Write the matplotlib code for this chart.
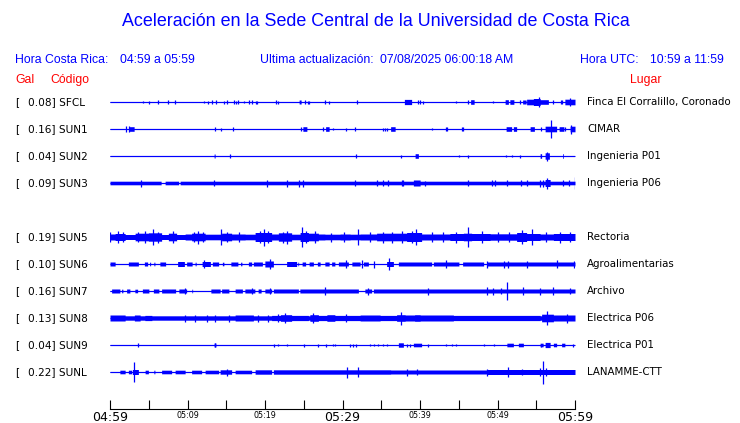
import numpy as np
import matplotlib
matplotlib.use("Agg")
import matplotlib.pyplot as plt

# ---------------- data ----------------
title = "Aceleración en la Sede Central de la Universidad de Costa Rica"
hora_cr = "04:59 a 05:59"
hora_utc = "10:59 a 11:59"
ultima = "07/08/2025 06:00:18 AM"

codes = ["SFCL", "SUN1", "SUN2", "SUN3", "SUN5", "SUN6", "SUN7", "SUN8", "SUN9", "SUNL"]
gal = [0.08, 0.16, 0.04, 0.09, 0.19, 0.10, 0.16, 0.13, 0.04, 0.22]
lugar = ["Finca El Corralillo, Coronado", "CIMAR", "Ingenieria P01", "Ingenieria P06",
         "Rectoria", "Agroalimentarias", "Archivo", "Electrica P06", "Electrica P01",
         "LANAMME-CTT"]

tick_minutes = list(range(0, 61, 5))
tick_labels = ["04:59", "", "05:09", "", "05:19", "", "05:29", "", "05:39", "", "05:49", "", "05:59"]

# envelope data: bursts (start_min, end_min, half_amp_px), spikes (min, half_amp_px)
sfcl_bursts = [(24.4, 24.65, 2.0), (37.98, 38.93, 2.6), (46.54, 46.97, 2.3), (50.97, 51.4, 2.3),
               (51.6, 52.1, 2.3), (53.25, 53.7, 2.0), (53.77, 54.63, 2.8), (54.63, 55.5, 3.5),
               (55.5, 56.56, 2.3), (58.7, 60, 2.8)]
sfcl_spikes = [(4.3, 1.2), (5.08, 1.5), (6.24, 2), (7.53, 2), (8.43, 2), (12.17, 1.2), (12.69, 1.5),
               (13.2, 2), (13.63, 2), (14.75, 1.5), (15.14, 2), (15.96, 2), (16.26, 1.5), (16.56, 2),
               (17.33, 1.2), (17.98, 2), (18.28, 2), (18.8, 1.5), (19.01, 1.5), (21.46, 2), (21.72, 1.5),
               (25.2, 2), (25.5, 1.5), (25.72, 1.5), (27.74, 2), (28.3, 1.5), (31.83, 2), (39.79, 2),
               (40.0, 2), (40.35, 1.5), (44.65, 1.2), (46.24, 2), (49.46, 1.2), (52.9, 2), (55.36, 4.8),
               (57.2, 2), (58.2, 2), (58.37, 2), (59.36, 4.2)]

sun1_bursts = [(2.45, 3.1, 2.3), (24.9, 25.4, 2.3), (27.83, 28.26, 2.3), (36.22, 36.78, 2.3),
               (51.1, 51.83, 2.3), (52.04, 52.48, 2.3), (54.2, 54.76, 2.3), (56.13, 57.64, 2.8),
               (57.94, 58.58, 2.3), (59.36, 60, 2.8)]
sun1_spikes = [(2.06, 3), (2.5, 3), (13.59, 2), (14.28, 1.5), (15.91, 2), (24.7, 2), (27.53, 2),
               (28.82, 1.2), (30.45, 1.5), (31.62, 2), (35.27, 1.5), (35.49, 1.5), (35.79, 1.5),
               (41.6, 1.2), (43.36, 2), (43.53, 2), (45.38, 2), (45.59, 2), (55.6, 2), (56.9, 9),
               (58.71, 2), (59.5, 4.5)]

sun2_bursts = [(13.42, 13.58, 2), (39.36, 39.79, 2.3), (55.5, 55.7, 2.3), (56.13, 56.7, 3.2),
               (58.4, 58.5, 2.3)]
sun2_spikes = [(15.48, 2), (31.7, 2), (37.55, 1.5), (45.08, 1.2), (46.24, 1.5), (51.1, 1.2),
               (51.92, 1.2), (52.9, 1.5), (56.43, 4.5)]

sun3_bursts = [(0, 6.6, 1.8), (7.1, 8.85, 1.8), (9.05, 60, 1.8), (39.14, 40.0, 3.0), (56.13, 56.78, 3.5)]
sun3_spikes = [(4.0, 3.5), (13.46, 3), (20.2, 3.5), (22.88, 3.5), (24.43, 3.5), (24.95, 3.5),
               (31.6, 3), (34.5, 3), (35.27, 3), (35.92, 3), (37.64, 3), (37.85, 3), (40.65, 2.5),
               (46.24, 3), (49.25, 3), (49.68, 3), (51.2, 3), (53.0, 3), (53.8, 3), (55.5, 3.5),
               (55.83, 3.5), (56.43, 5.5), (58.5, 3), (59.27, 3), (59.95, 6)]

sun5_bursts = [(0, 0.65, 3), (0.65, 1.94, 3.5), (1.94, 3.23, 2.5), (3.23, 4.95, 3.8), (4.95, 6.67, 4.2),
               (6.67, 7.53, 2.5), (7.53, 8.6, 3.8), (8.6, 9.68, 2.5), (9.68, 10.54, 3), (10.54, 12.26, 3.8),
               (12.26, 14.41, 2.8), (14.41, 15.7, 3.8), (15.7, 17.42, 3), (17.42, 18.71, 2.8),
               (18.71, 20.86, 4.5), (20.86, 21.72, 3), (21.72, 23.44, 4.2), (23.44, 24.52, 2.8),
               (24.52, 25.59, 4.5), (25.59, 26.88, 3.8), (26.88, 27.74, 3), (27.74, 29.68, 2.8),
               (29.68, 30.97, 3), (30.97, 32.26, 2.8), (32.26, 34.41, 3), (34.41, 38.28, 3.8),
               (38.28, 40.22, 4.5), (40.22, 43.87, 3), (43.87, 45.59, 3.5), (45.59, 46.67, 3.8),
               (46.67, 49.04, 3.5), (49.04, 52.48, 3.2), (52.48, 53.77, 4.5), (53.77, 55.49, 3.5),
               (55.49, 57.21, 3), (57.21, 60, 3.5)]
sun5_spikes = [(0.0, 5), (1.08, 6), (1.72, 5), (3.6, 5), (4.52, 6), (5.59, 8), (6.2, 5.5), (8.17, 6),
               (10.9, 5), (11.4, 6.5), (12.0, 5), (14.32, 8), (15.1, 5), (16.6, 5), (19.3, 6),
               (19.91, 8.5), (20.4, 6), (22.3, 5.5), (22.8, 6.5), (24.82, 10), (25.3, 6), (26.45, 6),
               (28.5, 4.5), (30.2, 5), (32.05, 8), (33.5, 5), (35.2, 5.5), (36.4, 5.5), (37.64, 6),
               (39.0, 6), (39.49, 8), (41.5, 5), (43.0, 5), (44.6, 5.5), (46.24, 10), (47.96, 6),
               (50.0, 5), (51.5, 5), (53.12, 7), (54.41, 8), (56.2, 5), (58.0, 5.5), (59.4, 5)]

sun6_bursts = [(0, 0.65, 2), (2.37, 3.66, 2), (4.43, 4.86, 2), (5.1, 5.25, 1.8), (5.65, 5.8, 1.8),
               (6.45, 7.18, 2), (8.73, 9.59, 2.5), (9.9, 10.6, 2), (11.0, 11.1, 1.8), (11.9, 12.95, 2.5),
               (13.2, 14.0, 2), (14.5, 14.7, 1.8), (15.6, 16.5, 2), (16.85, 17.0, 1.8),
               (17.85, 18.28, 2), (18.5, 19.65, 2), (20.0, 21.08, 3), (22.8, 24.08, 2.5),
               (24.25, 24.35, 1.8), (24.8, 25.25, 2), (25.68, 26.24, 2), (26.75, 27.1, 2),
               (27.74, 28.26, 2), (28.6, 29.0, 2), (29.46, 30.75, 2), (31.2, 32.26, 2),
               (32.69, 33.34, 2), (35.7, 36.56, 2.5), (37.2, 41.5, 2), (41.72, 45.0, 2),
               (45.5, 48.2, 2), (48.6, 60, 2)]
sun6_spikes = [(12.1, 4), (20.7, 5), (30.45, 4), (32.55, 4), (34.0, 3.5), (36.0, 6), (43.36, 4),
               (48.6, 3.5), (50.9, 3.5), (51.3, 3.5), (53.8, 3.5), (57.64, 4), (59.9, 3.5)]

sun7_bursts = [(0.2, 1.29, 2), (1.5, 1.65, 1.8), (2.15, 2.58, 2), (3.2, 3.55, 1.8), (4.17, 5.03, 2),
               (5.59, 6.32, 2), (6.67, 8.47, 2), (8.9, 9.9, 2), (10.55, 10.65, 1.8),
               (13.03, 14.2, 2), (14.4, 15.35, 2), (16.13, 17.08, 2), (17.4, 18.7, 2),
               (19.1, 19.5, 2), (20.0, 20.86, 2), (21.08, 24.3, 2), (24.5, 32.05, 2),
               (32.9, 33.77, 2), (34.0, 60, 2)]
sun7_spikes = [(9.7, 3), (18.3, 3), (20.6, 3), (27.74, 4), (33.3, 3.5), (41.0, 3.5), (48.6, 4),
               (49.46, 3.5), (50.5, 3), (51.27, 8.7), (53.25, 4), (55.49, 3.5), (57.12, 4), (59.36, 3)]

sun8_bursts = [(0, 60, 2.2), (0, 1.94, 3), (3.15, 3.9, 3), (4.5, 5.4, 2.6), (16.13, 18.5, 3),
               (20.86, 22.58, 2.6), (22.0, 23.44, 3.3), (23.44, 25.6, 2.6), (25.8, 26.88, 3.3),
               (26.88, 30.32, 2.6), (28.0, 29.0, 3.3), (29.68, 32.26, 2.6), (32.26, 34.84, 3),
               (34.84, 37.0, 2.6), (37.0, 38.07, 3.3), (38.07, 44.3, 3), (39.3, 40.0, 3.3),
               (44.3, 55.5, 2.6), (55.7, 57.2, 3.8), (57.2, 60, 3)]
sun8_spikes = [(9.7, 3.5), (11.0, 3.5), (12.5, 3.5), (13.55, 3.5), (15.3, 3.5), (19.1, 3.5),
               (20.4, 3.5), (21.7, 4), (22.6, 5), (26.2, 5), (30.5, 4), (37.55, 6.5), (56.43, 7), (59.0, 4.5)]

sun9_bursts = [(13.45, 13.65, 2), (37.2, 37.85, 2.2), (39.14, 40.22, 1.8), (51.2, 52.04, 1.8),
               (52.69, 53.34, 1.8), (55.5, 55.9, 1.8), (56.13, 56.78, 2.6), (57.21, 57.64, 1.8),
               (58.28, 58.7, 1.8)]
sun9_spikes = [(3.57, 2), (13.55, 2), (21.2, 1.5), (21.64, 1.2), (22.8, 1.2), (25.08, 1.5),
               (26.88, 1.5), (27.87, 1.5), (28.78, 1.2), (29.03, 1.2), (30.97, 1.5), (31.4, 1.5),
               (31.75, 1.5), (33.55, 1.2), (34.1, 1.2), (34.63, 1.2), (35.27, 1.2), (35.7, 1.2),
               (38.3, 1.5), (38.7, 1.5), (41.08, 1.5), (43.4, 1.2), (44.1, 1.2), (44.7, 1.2),
               (48.2, 1.2), (49.5, 1.2), (55.6, 1.5), (59.79, 1.5)]

sunl_bursts = [(1.29, 1.94, 1.8), (2.37, 2.8, 1.8), (2.88, 3.66, 2.5), (4.52, 4.95, 1.8), (5.65, 5.8, 1.8),
               (6.67, 7.96, 1.8), (8.39, 9.68, 1.8), (10.54, 11.83, 1.8), (12.26, 14.0, 1.8),
               (14.2, 15.7, 2.2), (16.13, 18.28, 1.8), (18.71, 20.86, 2.2), (21.08, 36.2, 2.2),
               (36.2, 48.6, 2.0), (48.6, 60, 2.5)]
sunl_spikes = [(3.14, 10), (15.05, 3.5), (30.63, 5.5), (32.05, 5), (38.28, 3.5), (39.57, 3),
               (48.6, 3.5), (51.4, 5), (53.12, 3), (55.5, 4), (55.9, 11.5), (56.3, 4)]

bursts = [sfcl_bursts, sun1_bursts, sun2_bursts, sun3_bursts, sun5_bursts,
          sun6_bursts, sun7_bursts, sun8_bursts, sun9_bursts, sunl_bursts]
spikes = [sfcl_spikes, sun1_spikes, sun2_spikes, sun3_spikes, sun5_spikes,
          sun6_spikes, sun7_spikes, sun8_spikes, sun9_spikes, sunl_spikes]

# ---------------- drawing ----------------
W, H = 740, 423
BLUE = "#0000ff"
fig = plt.figure(figsize=(W / 100, H / 100), dpi=100)
fig.patch.set_facecolor("white")


def ftext(x, y, s, **kw):
    fig.text(x / W, 1 - y / H, s, va="center", **kw)


ARIAL = ["Liberation Sans", "DejaVu Sans"]
ftext(376, 21, title, ha="center", color=BLUE, fontsize=12.9, family=ARIAL)
ftext(15, 60, "Hora Costa Rica:", color=BLUE, fontsize=8.8, family=ARIAL)
ftext(120, 60, hora_cr, color=BLUE, fontsize=8.8, family=ARIAL)
ftext(260, 60, "Ultima actualización:", color=BLUE, fontsize=8.8, family=ARIAL)
ftext(380, 60, ultima, color=BLUE, fontsize=8.8, family=ARIAL)
ftext(580, 60, "Hora UTC:", color=BLUE, fontsize=8.8, family=ARIAL)
ftext(650, 60, hora_utc, color=BLUE, fontsize=8.8, family=ARIAL)
ftext(15, 80, "Gal", color="red", fontsize=8.8, family=ARIAL)
ftext(50, 80, "Código", color="red", fontsize=8.8, family=ARIAL)
ftext(630, 80, "Lugar", color="red", fontsize=8.8, family=ARIAL)

# axes: x 110..575 px, y 85..409 px (data y in pixels, top-down)
top_px, bot_px = 85, 409
ax = fig.add_axes([110 / W, 1 - bot_px / H, 465 / W, (bot_px - top_px) / H])
ax.set_xlim(0, 60)
ax.set_ylim(bot_px, top_px)
ax.set_facecolor("none")
for side in ("top", "left", "right"):
    ax.spines[side].set_visible(False)
ax.spines["bottom"].set_linewidth(0.8)
ax.set_yticks([])
ax.set_xticks(tick_minutes)
ax.set_xticklabels(tick_labels)
ax.tick_params(axis="x", direction="in", length=6.5, width=0.8, pad=1.5)
big = {0, 6, 12}
for i, lab in enumerate(ax.get_xticklabels()):
    lab.set_fontsize(9 if i in big else 5.8)
    lab.set_family("DejaVu Sans")

t = np.linspace(0, 60, 1861)
row0, gap = 102, 27
for i, code in enumerate(codes):
    slot = i + (1 if i >= 4 else 0)      # SUN4 row empty
    yc = row0 + gap * slot
    env = np.full_like(t, 0.55)
    for a, b, h in bursts[i]:
        m = (t >= a) & (t <= b)
        env[m] = np.maximum(env[m], h)
    ax.fill_between(t, yc - env, yc + env, color=BLUE, lw=0, step="mid")
    ax.hlines(yc, 0, 60, color=BLUE, lw=0.8)
    sx = [s[0] for s in spikes[i]]
    sh = np.array([s[1] for s in spikes[i]])
    ax.vlines(sx, yc - sh, yc + sh, color=BLUE, lw=0.9)

    ftext(15, yc, "[", fontsize=7.6, family="DejaVu Sans")
    ftext(28, yc, f"{gal[i]:.2f}] {code}", fontsize=7.6, family="DejaVu Sans")
    ftext(587, yc, lugar[i], fontsize=7.4, family="DejaVu Sans")

fig.savefig("out.png", dpi=100)
